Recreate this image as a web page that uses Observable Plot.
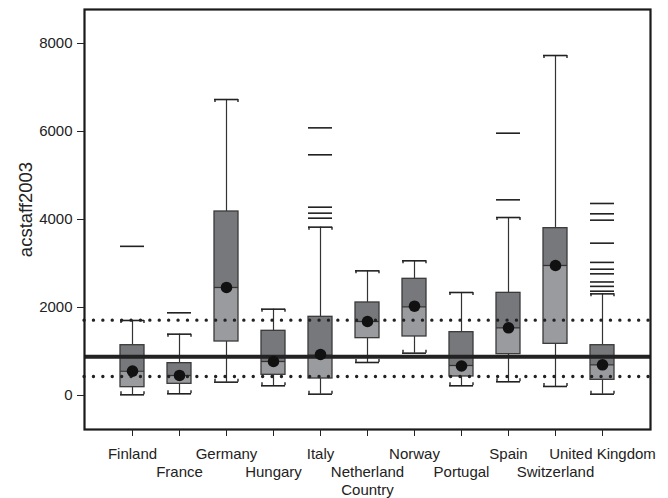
<!DOCTYPE html>
<html><head><meta charset="utf-8">
<script src="https://cdn.jsdelivr.net/npm/d3@7"></script>
<script src="https://cdn.jsdelivr.net/npm/@observablehq/plot@0.6"></script>
<style>body{margin:0;background:#fff}</style>
</head><body><div id="chart"></div>
<script>
const countries = ["Finland","France","Germany","Hungary","Italy","Netherland","Norway","Portugal","Spain","Switzerland","United Kingdom"];
const lowerWhisker = [15, 38, 303, 220, 30, 750, 962, 220, 311, 205, 30];
const q1 = [189, 265, 1227, 470, 386, 1303, 1341, 432, 939, 1174, 356];
const median = [553, 455, 2455, 773, 920, 1682, 2015, 682, 1538, 2955, 697];
const q3 = [1143, 735, 4182, 1470, 1788, 2114, 2652, 1439, 2333, 3803, 1143];
const upperWhisker = [1705, 1394, 6727, 1962, 3826, 2833, 3061, 2341, 4045, 7727, 2310];
const means = [553, 455, 2455, 773, 932, 1682, 2030, 670, 1538, 2955, 697];
const outlierCountry = ["Finland","France","Italy","Italy","Italy","Italy","Italy","Spain","Spain",
  "United Kingdom","United Kingdom","United Kingdom","United Kingdom","United Kingdom","United Kingdom","United Kingdom","United Kingdom","United Kingdom","United Kingdom"];
const outlierValue = [3390, 1879, 6083, 5470, 4280, 4144, 4030, 5962, 4447,
  4364, 4129, 3985, 3462, 3025, 2870, 2765, 2580, 2480, 2370];
const referenceMean = 880;
const referenceLow = 432;
const referenceHigh = 1712;
const yTicks = [0, 2000, 4000, 6000, 8000];
const yTitle = "acstaff2003";
const xTitle = "Country";

const boxes = countries.map((c, i) => ({country: c, lo: lowerWhisker[i], q1: q1[i], med: median[i], q3: q3[i], hi: upperWhisker[i], mean: means[i]}));
const outliers = outlierCountry.map((c, i) => ({country: c, value: outlierValue[i]}));
const row1 = countries.filter((_, i) => i % 2 === 0);
const row2 = countries.filter((_, i) => i % 2 === 1);

const capHalf = 11.5, capEnd = 3;
const font = "'Liberation Sans', Arial, Helvetica, sans-serif";

const chart = Plot.plot({
  width: 668, height: 498,
  marginLeft: 84, marginRight: 18, marginTop: 9, marginBottom: 69,
  style: {fontFamily: font, fontSize: "15px", background: "#fff", color: "#222"},
  x: {type: "band", domain: countries, paddingInner: 0.491, paddingOuter: 0.7455, label: null, axis: null},
  y: {domain: [-773, 8773], label: null, axis: null},
  marks: [
    Plot.ruleX(boxes, {x: "country", y1: "lo", y2: "hi", stroke: "#333", strokeWidth: 1.2}),
    Plot.barY(boxes, {x: "country", y1: "q1", y2: "med", fill: "#9a9b9f"}),
    Plot.barY(boxes, {x: "country", y1: "med", y2: "q3", fill: "#77787c"}),
    Plot.barY(boxes, {x: "country", y1: "q1", y2: "q3", fill: "none", stroke: "#3a3a3a", strokeWidth: 1.3}),
    Plot.tickY(boxes, {x: "country", y: "med", stroke: "#333", strokeWidth: 1.3}),
    Plot.tickY(boxes, {x: "country", y: "hi", stroke: "#222", strokeWidth: 1.6}),
    Plot.tickY(boxes, {x: "country", y: "lo", stroke: "#222", strokeWidth: 1.6}),
    Plot.ruleX(boxes, {x: "country", y1: "hi", y2: "hi", insetBottom: -capEnd, dx: -capHalf, stroke: "#222", strokeWidth: 1.4}),
    Plot.ruleX(boxes, {x: "country", y1: "hi", y2: "hi", insetBottom: -capEnd, dx: capHalf, stroke: "#222", strokeWidth: 1.4}),
    Plot.ruleX(boxes, {x: "country", y1: "lo", y2: "lo", insetTop: -capEnd, dx: -capHalf, stroke: "#222", strokeWidth: 1.4}),
    Plot.ruleX(boxes, {x: "country", y1: "lo", y2: "lo", insetTop: -capEnd, dx: capHalf, stroke: "#222", strokeWidth: 1.4}),
    Plot.tickY(outliers, {x: "country", y: "value", stroke: "#222", strokeWidth: 1.6}),
    Plot.ruleY([referenceMean], {stroke: "#222", strokeWidth: 4}),
    Plot.ruleY([referenceLow, referenceHigh], {stroke: "#222", strokeWidth: 3.3, strokeDasharray: "0.1 9.3", strokeLinecap: "round"}),
    Plot.dot(boxes, {x: "country", y: "mean", r: 5.8, fill: "#111"}),
    Plot.frame({stroke: "#1a1a1a", strokeWidth: 2.2}),
    Plot.axisY({ticks: yTicks, tickFormat: d3.format("d"), tickSize: 7, tickPadding: 5, fontSize: 15, label: null, color: "#222"}),
    Plot.axisX({ticks: row1, tickSize: 7, tickPadding: 12, fontSize: 15, label: null, color: "#222"}),
    Plot.axisX({ticks: row2, tickSize: 7, tickPadding: 30, fontSize: 15, label: null, color: "#222"}),
    Plot.text([yTitle], {frameAnchor: "left", textAnchor: "middle", rotate: -90, dx: -58, dy: -10, fontSize: 18.5, fill: "#222"}),
    Plot.text([xTitle], {frameAnchor: "bottom", textAnchor: "middle", lineAnchor: "top", dy: 55, fontSize: 15, fill: "#222"})
  ]
});
document.getElementById("chart").appendChild(chart);
</script>
</body></html>
